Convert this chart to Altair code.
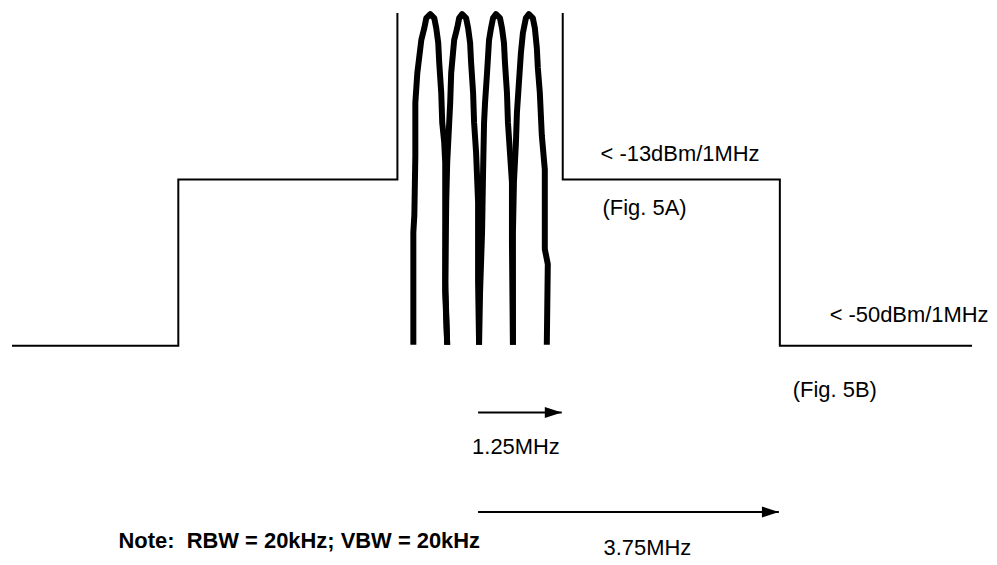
import altair as alt
import pandas as pd

# ---- data (schematic units, x to the right, y downward) ----
mask_left_x = [8, 175, 175, 395, 395]
mask_left_y = [344, 344, 177, 177, 10]
mask_right_x = [561, 561, 779, 779, 972]
mask_right_y = [10, 177, 177, 344, 344]

carrier1_x = [411, 411, 412, 413, 413, 415, 419, 422, 424, 428, 432, 434, 436, 437, 439, 440, 442, 443, 443, 445]
carrier1_y = [343, 230, 213, 153, 100, 70, 37, 25, 15, 11, 15, 25, 40, 60, 90, 120, 140, 160, 280, 343]
carrier2_x = [445, 443, 444, 445, 447, 448, 449, 452, 455, 457, 460, 464, 466, 468, 469, 471, 472, 474, 476, 476, 477]
carrier2_y = [343, 290, 200, 160, 120, 100, 70, 37, 25, 15, 11, 15, 25, 40, 60, 90, 120, 150, 200, 280, 343]
carrier3_x = [477, 478, 480, 481, 482, 483, 485, 487, 489, 491, 494, 498, 500, 502, 503, 505, 506, 508, 510, 510, 511]
carrier3_y = [343, 290, 230, 170, 120, 100, 70, 37, 25, 15, 11, 15, 25, 40, 60, 90, 120, 150, 180, 240, 343]
carrier4_x = [511, 511, 512, 514, 515, 517, 519, 521, 524, 527, 531, 533, 535, 536, 538, 540, 543, 543, 546, 545]
carrier4_y = [343, 230, 180, 140, 110, 80, 50, 30, 15, 11, 15, 25, 45, 65, 90, 133, 167, 247, 262, 343]

arrow_start = [476, 476]
arrow_tip = [560, 778]
arrow_y = [411, 511]

label_text = ["< -13dBm/1MHz", "(Fig. 5A)", "< -50dBm/1MHz", "(Fig. 5B)", "1.25MHz", "3.75MHz"]
label_x = [599, 601, 829, 792, 470, 602]
label_y = [159, 213, 320, 395, 453, 554]

note_text = ["Note:\u00a0 RBW = 20kHz; VBW = 20kHz"]
note_x = [115]
note_y = [547]

# ---- tables ----
def poly(name, xs, ys):
    return pd.DataFrame({"series": name, "i": range(len(xs)), "x": xs, "y": ys})

mask_df = pd.concat([poly("L", mask_left_x, mask_left_y), poly("R", mask_right_x, mask_right_y)])
carrier_df = pd.concat([
    poly("c1", carrier1_x, carrier1_y),
    poly("c2", carrier2_x, carrier2_y),
    poly("c3", carrier3_x, carrier3_y),
    poly("c4", carrier4_x, carrier4_y),
])
arrow_df = pd.DataFrame({"x": arrow_start, "x2": arrow_tip, "y": arrow_y})
label_df = pd.DataFrame({"t": label_text, "x": label_x, "y": label_y})
note_df = pd.DataFrame({"t": note_text, "x": note_x, "y": note_y})

X = alt.X("x:Q", scale=alt.Scale(domain=[8, 989], nice=False, zero=False), axis=None)
Y = alt.Y("y:Q", scale=alt.Scale(domain=[8, 557], nice=False, zero=False, reverse=True), axis=None)

mask = alt.Chart(mask_df).mark_line(color="black", strokeWidth=2, strokeJoin="miter").encode(
    x=X, y=Y, detail="series:N", order="i:Q")

carriers = alt.Chart(carrier_df).mark_line(color="black", strokeWidth=6, strokeJoin="round", strokeCap="butt").encode(
    x=X, y=Y, detail="series:N", order="i:Q")

shafts = alt.Chart(arrow_df).mark_rule(color="black", strokeWidth=2).encode(x=X, x2="x2:Q", y=Y)

heads = alt.Chart(arrow_df).mark_point(
    shape="M 0 0 L -2 -0.65 L -2 0.65 Z", filled=True, color="black", opacity=1, size=289, strokeWidth=0
).encode(x=alt.X("x2:Q", scale=alt.Scale(domain=[8, 989], nice=False, zero=False), axis=None), y=Y)

labels = alt.Chart(label_df).mark_text(
    align="left", baseline="alphabetic", font="Liberation Sans", fontSize=22, color="black"
).encode(x=X, y=Y, text="t:N")

note = alt.Chart(note_df).mark_text(
    align="left", baseline="alphabetic", font="Liberation Sans", fontSize=22, fontWeight="bold", color="black"
).encode(x=X, y=Y, text="t:N")

chart = alt.layer(mask, carriers, shafts, heads, labels, note).properties(
    width=981, height=549, padding=0, background="white"
).configure_view(stroke=None)

chart.save("out.html", embed_options={"renderer": "svg", "actions": False})
